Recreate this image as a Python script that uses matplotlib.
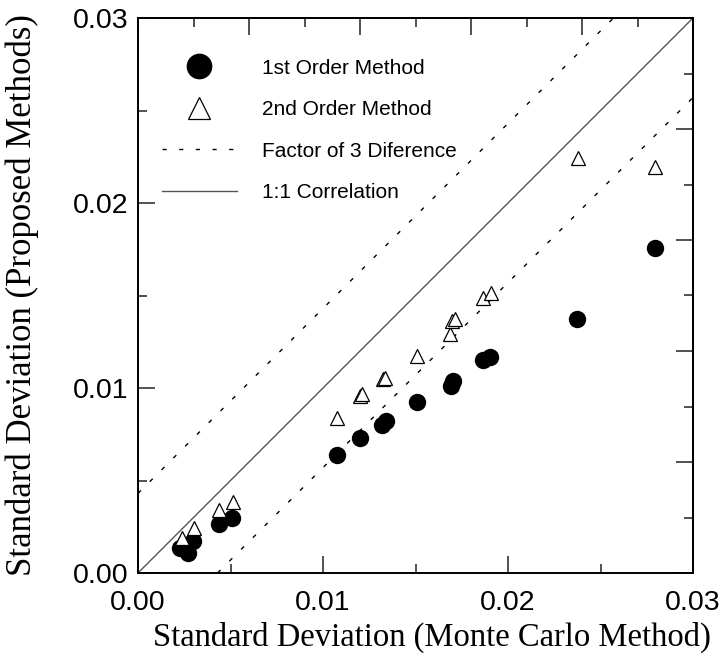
import matplotlib
matplotlib.use("Agg")
import matplotlib.pyplot as plt
from matplotlib.lines import Line2D
from matplotlib.ticker import MultipleLocator, NullFormatter

# standard deviations (x = Monte Carlo, y = proposed)
first_x = [0.00227, 0.00270, 0.00297, 0.00438, 0.00508, 0.01076, 0.01200,
           0.01319, 0.01340, 0.01508, 0.01692, 0.01703, 0.01865, 0.01903,
           0.02373, 0.02795]
first_y = [0.00135, 0.00108, 0.00173, 0.00265, 0.00297, 0.00638, 0.00730,
           0.00800, 0.00820, 0.00924, 0.01010, 0.01038, 0.01151, 0.01168,
           0.01373, 0.01757]

second_x = [0.00238, 0.00303, 0.00438, 0.00514, 0.01076, 0.01200, 0.01211,
            0.01324, 0.01335, 0.01508, 0.01686, 0.01697, 0.01714, 0.01865,
            0.01908, 0.02378, 0.02795]
second_y = [0.00189, 0.00243, 0.00340, 0.00384, 0.00838, 0.00957, 0.00968,
            0.01049, 0.01054, 0.01173, 0.01292, 0.01362, 0.01373, 0.01486,
            0.01514, 0.02243, 0.02195]

# reference lines (end points)
one_x = [0.0, 0.03]
one_y = [0.0, 0.03]
upper_x = [0.0, 0.0257]
upper_y = [0.0043, 0.03]
lower_x = [0.0043, 0.03]
lower_y = [0.0, 0.0257]

labels = ["1st Order Method", "2nd Order Method",
          "Factor of 3 Diference", "1:1 Correlation"]

dash = (0, (3, 9))

fig = plt.figure(figsize=(7.22, 6.66), dpi=100)
ax = fig.add_axes([138 / 722, 93 / 666, 555 / 722, 555 / 666])

ax.plot(one_x, one_y, color="#555555", lw=1.0)
ax.plot(upper_x, upper_y, color="black", lw=1.0, linestyle=dash)
ax.plot(lower_x, lower_y, color="black", lw=1.0, linestyle=dash)

ax.plot(first_x, first_y, "o", color="black", markersize=11.5, ls="none")
ax.plot(second_x, second_y, "^", markerfacecolor="white",
        markeredgecolor="black", markeredgewidth=0.9, markersize=9.5, ls="none")

ax.set_xlim(0, 0.03)
ax.set_ylim(0, 0.03)

ax.xaxis.set_major_locator(MultipleLocator(0.01))
ax.xaxis.set_minor_locator(MultipleLocator(0.005))
ax.yaxis.set_major_locator(MultipleLocator(0.01))
ax.yaxis.set_minor_locator(MultipleLocator(0.005))
ax.xaxis.set_major_formatter(matplotlib.ticker.FormatStrFormatter("%.2f"))
ax.yaxis.set_major_formatter(matplotlib.ticker.FormatStrFormatter("%.2f"))

ax.tick_params(which="both", direction="in", width=1.2, color="#333333",
               top=False, right=False)
ax.tick_params(which="major", length=12)
ax.tick_params(which="minor", length=6.5)
ax.tick_params(axis="x", which="major", pad=12)
ax.tick_params(axis="y", which="major", pad=7)
for lab in ax.get_xticklabels() + ax.get_yticklabels():
    lab.set_family("Liberation Sans")
    lab.set_fontsize(20.5)

for sp in ax.spines.values():
    sp.set_linewidth(1.4)

# top and right axes carry their own tick spacing
top = ax.secondary_xaxis("top")
right = ax.secondary_yaxis("right")
for sec, axis in ((top, top.xaxis), (right, right.yaxis)):
    axis.set_major_locator(MultipleLocator(0.006))
    axis.set_minor_locator(MultipleLocator(0.003))
    axis.set_major_formatter(NullFormatter())
    sec.tick_params(which="both", direction="in", width=1.2, color="#333333")
    sec.tick_params(which="major", length=12)
    sec.tick_params(which="minor", length=6.5)
    for sp in sec.spines.values():
        sp.set_linewidth(1.4)

ax.set_xlabel("Standard Deviation (Monte Carlo Method)",
              family="Liberation Serif", fontsize=23.5)
ax.set_ylabel("Standard Deviation (Proposed Methods)",
              family="Liberation Serif", fontsize=25)
ax.xaxis.set_label_coords(0.53, -0.088)
ax.yaxis.set_label_coords(-0.178, 0.5)

handles = [
    Line2D([], [], marker="o", color="black", ls="none", markersize=17.5),
    Line2D([], [], marker="^", markerfacecolor="white", markeredgecolor="black",
           markeredgewidth=0.9, ls="none", markersize=16),
    Line2D([], [], color="black", lw=1.0, linestyle=dash),
    Line2D([], [], color="#555555", lw=1.0),
]
ax.legend(handles, labels, loc="upper left", bbox_to_anchor=(0.043, 0.927),
          frameon=False, borderpad=0, borderaxespad=0, handlelength=3.6,
          handletextpad=1.2, labelspacing=1.08,
          prop={"family": "Liberation Sans", "size": 15})

fig.savefig("out.png", dpi=100)
